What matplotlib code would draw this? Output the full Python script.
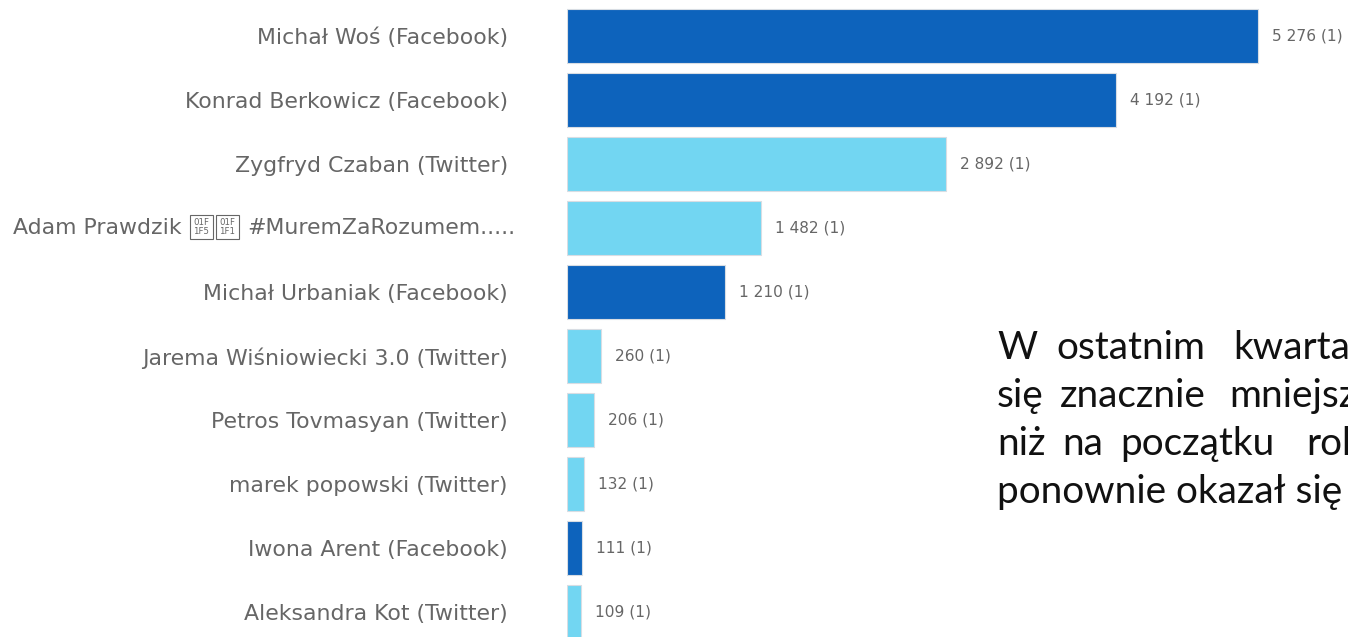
import matplotlib
matplotlib.use("Agg")
import matplotlib.pyplot as plt
from matplotlib.patches import Rectangle
from matplotlib.transforms import offset_copy

plt.rcParams["font.family"] = ["DejaVu Sans"]

names = [
    "Michał Woś (Facebook)",
    "Konrad Berkowicz (Facebook)",
    "Zygfryd Czaban (Twitter)",
    "Adam Prawdzik \U0001F1F5\U0001F1F1 #MuremZaRozumem.....",
    "Michał Urbaniak (Facebook)",
    "Jarema Wiśniowiecki 3.0 (Twitter)",
    "Petros Tovmasyan (Twitter)",
    "marek popowski (Twitter)",
    "Iwona Arent (Facebook)",
    "Aleksandra Kot (Twitter)",
]
values = [5276, 4192, 2892, 1482, 1210, 260, 206, 132, 111, 109]
counts = [1, 1, 1, 1, 1, 1, 1, 1, 1, 1]
platforms = ["Facebook", "Facebook", "Twitter", "Twitter", "Facebook",
             "Twitter", "Twitter", "Twitter", "Facebook", "Twitter"]

colors = {"Facebook": "#0d63bc", "Twitter": "#72d6f2"}

# overlaid paragraph (justified, clipped by the figure edge)
para_lines = [
    ["W", "ostatnim", "kwartale"],
    ["się", "znacznie", "mniejsze"],
    ["niż", "na", "początku", "roku"],
    ["ponownie okazał się"],
]
para_word_x = [
    [997, 1056, 1233],
    [997, 1060, 1229],
    [997, 1062, 1120, 1306],
    [997],
]

W, H = 1348, 637
fig = plt.figure(figsize=(W / 100, H / 100), dpi=100)
ax = fig.add_axes([567 / W, 0, 1 - 567 / W, 1])

ypos = list(range(len(values)))
ax.barh(ypos, values, height=0.84,
        color=[colors[p] for p in platforms],
        edgecolor="#d8dde3", linewidth=0.8)

ax.set_xlim(0, 781 / (691 / 5276))
ax.set_ylim((637 - 36) / 64, -36 / 64)

LABEL_FS = 15.8
LABEL_C = "#666666"
tick_names = [n if "\U0001F1F5" not in n else "" for n in names]
ax.set_yticks(ypos)
ax.set_yticklabels(tick_names, fontsize=LABEL_FS, color=LABEL_C)
ax.tick_params(axis="y", length=0, pad=42.5)
ax.set_xticks([])
for s in ax.spines.values():
    s.set_visible(False)

def fmt(v):
    return f"{v:,}".replace(",", " ")

for y, v, c in zip(ypos, values, counts):
    ax.text(v, y, f"{fmt(v)} ({c})", fontsize=11.1, color="#666666",
            va="center", ha="left",
            transform=offset_copy(ax.transData, fig=fig, x=14, y=0, units="dots"))

# label containing flag emoji: no installed font has the regional-indicator
# glyphs, so draw them as the "missing glyph" hex boxes the reference shows
idx = [i for i, n in enumerate(names) if "\U0001F1F5" in n][0]
full = names[idx]
left_part, right_part = full.split(" \U0001F1F5\U0001F1F1 ")
ytr = ax.get_yaxis_transform()
right_x = 515
t_right = ax.text(0, idx, right_part, fontsize=LABEL_FS, color=LABEL_C,
                  ha="right", va="center",
                  transform=offset_copy(ytr, fig=fig, x=right_x - 567, y=0, units="dots"))
fig.canvas.draw()
r = fig.canvas.get_renderer()
bb = t_right.get_window_extent(r)
box_w, box_h, gap, tgap = 23, 24, 3, 8
x_box2 = bb.x0 - tgap - box_w
x_box1 = x_box2 - gap - box_w
yc = bb.y0 + bb.height / 2 + 1
for xb, code in [(x_box1, "01F\n1F5"), (x_box2, "01F\n1F1")]:
    fig.patches.append(Rectangle((xb / W, (yc - box_h / 2) / H), box_w / W, box_h / H,
                                 transform=fig.transFigure, fill=False,
                                 edgecolor=LABEL_C, linewidth=0.8))
    fig.text((xb + box_w / 2) / W, yc / H, code, fontsize=6.2, color=LABEL_C,
             ha="center", va="center", linespacing=1.0)
ax.text(0, idx, left_part, fontsize=LABEL_FS, color=LABEL_C,
        ha="right", va="center",
        transform=offset_copy(ytr, fig=fig, x=(x_box1 - tgap) - 567, y=0, units="dots"))

for i, (words, xs) in enumerate(zip(para_lines, para_word_x)):
    for w, x in zip(words, xs):
        fig.text(x / W, 1 - (359 + 48 * i) / H, w, family="Lato",
                 fontsize=27.9, color="#111111", ha="left", va="baseline")

fig.savefig("out.png", dpi=100)
